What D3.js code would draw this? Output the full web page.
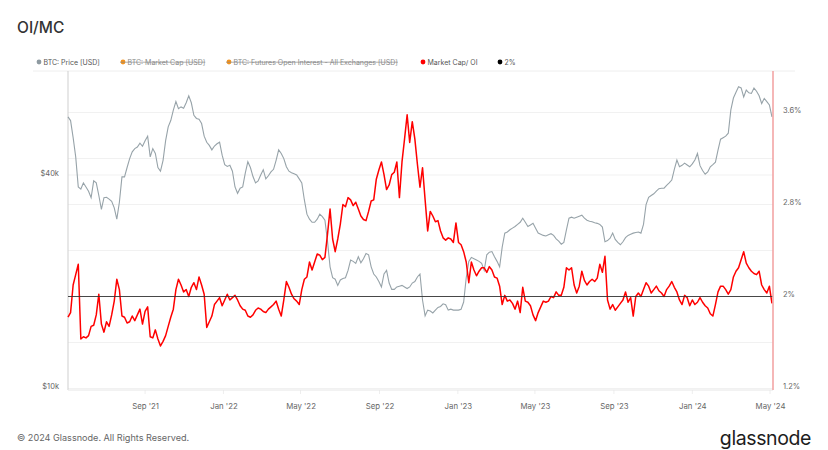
<!DOCTYPE html>
<html><head><meta charset="utf-8">
<script src="https://cdn.jsdelivr.net/npm/d3@7"></script>
<style>
body{margin:0;background:#fff;}
svg{display:block;font-family:Inter,"Noto Sans",sans-serif;}
</style></head><body>
<svg id="c" width="828" height="450"></svg>
<script>
// ---------- data ----------
const startDate = "2021-05-04";   // first sample
const stepDays = 4;               // spacing between samples

// BTC price, thousands of USD
const priceK = [
58.4,57.0,51.0,45.0,37.0,36.5,38.0,37.0,36.0,34.5,
38.5,38.0,35.0,32.0,34.5,34.6,34.2,33.7,32.3,30.0,
33.5,39.5,39.5,42.0,44.5,46.5,47.5,48.0,49.2,48.2,
50.0,51.5,45.0,47.5,46.0,42.0,41.0,44.0,50.0,54.7,
57.0,61.0,64.5,61.6,62.3,61.8,64.0,67.0,64.0,59.0,
57.8,57.5,55.9,51.5,49.5,48.5,47.1,48.3,49.0,49.5,
45.5,42.8,42.3,42.6,41.0,37.0,35.5,36.7,37.0,40.5,
43.6,42.0,39.6,38.0,38.5,40.0,41.4,39.0,39.8,40.8,
41.5,44.0,47.1,46.0,44.5,42.2,41.0,40.6,40.3,40.0,
39.0,38.0,34.0,31.0,30.0,29.4,29.4,30.0,31.0,30.5,
29.8,26.0,22.0,20.5,20.3,19.5,20.2,20.4,20.5,21.5,
23.0,22.8,22.5,23.5,22.6,23.2,24.0,23.8,22.0,21.0,
20.6,20.0,19.3,21.0,21.5,19.8,19.0,19.0,19.3,19.4,
19.5,19.3,19.1,19.3,19.8,20.0,20.6,21.0,17.7,16.0,
16.6,16.5,16.3,16.6,16.9,17.0,17.3,17.2,16.6,16.7,
16.6,16.6,16.6,16.7,17.5,20.5,22.8,23.4,23.2,23.0,
22.8,22.5,21.5,23.8,24.2,24.3,23.5,22.8,22.0,25.0,
27.4,27.6,28.0,28.3,28.6,29.0,29.4,30.2,29.4,28.6,
28.9,29.2,28.3,27.4,27.2,27.0,26.9,27.1,27.3,27.0,
26.4,26.0,25.5,25.8,28.0,30.2,30.4,30.2,30.4,30.6,
30.8,30.2,29.8,29.6,29.5,29.3,29.2,29.0,28.5,25.9,
26.1,26.5,27.4,26.3,25.8,25.4,25.9,26.6,27.0,27.2,
27.4,27.5,27.6,27.4,29.0,33.0,34.6,35.0,35.4,36.0,
36.6,36.7,36.7,37.4,38.0,38.7,41.5,44.1,42.2,42.6,
43.2,42.7,42.2,43.0,44.1,46.0,42.5,41.2,40.2,40.8,
42.2,42.8,43.5,47.0,50.5,51.0,51.5,52.5,61.1,66.0,
68.5,71.0,70.5,66.5,69.5,68.3,68.0,70.4,69.0,67.0,
63.7,65.8,64.5,63.1,58.4
];

// Market Cap / OI, percent
const ratioPct = [
1.82,1.86,2.10,2.19,2.28,1.63,1.65,1.64,1.66,1.74,
1.75,1.84,2.02,1.76,1.69,1.78,1.74,1.84,1.96,2.15,
2.06,1.83,1.82,1.77,1.78,1.83,1.79,1.84,1.89,1.76,
1.87,1.91,1.65,1.64,1.71,1.63,1.57,1.61,1.66,1.74,
1.82,1.89,2.06,2.15,2.10,2.04,2.06,2.00,2.08,2.12,
2.06,2.17,2.10,2.02,1.73,1.78,1.83,1.93,1.96,1.99,
1.92,1.97,2.02,1.97,1.99,2.01,1.97,1.92,1.89,1.88,
1.83,1.82,1.84,1.88,1.90,1.89,1.87,1.86,1.89,1.91,
1.93,1.96,1.89,1.83,1.97,2.13,2.08,2.02,1.98,1.96,
1.93,2.06,2.15,2.17,2.30,2.23,2.30,2.37,2.36,2.32,
2.34,2.54,2.76,2.50,2.39,2.50,2.63,2.80,2.78,2.86,
2.84,2.79,2.82,2.76,2.70,2.67,2.66,2.74,2.83,2.84,
3.02,3.10,3.17,3.06,2.93,2.97,3.06,3.08,3.17,2.86,
3.17,3.37,3.58,3.34,3.52,3.37,3.15,2.95,3.12,2.84,
2.57,2.74,2.70,2.65,2.66,2.57,2.51,2.49,2.51,2.50,
2.47,2.64,2.47,2.45,2.39,2.30,2.12,2.30,2.23,2.18,
2.22,2.25,2.25,2.21,2.26,2.23,2.17,2.16,2.09,1.93,
2.01,1.96,1.97,1.94,1.89,1.96,1.86,2.08,1.96,1.95,
1.92,1.84,1.79,1.86,1.91,1.96,1.95,1.96,2.00,1.99,
2.04,2.01,2.01,2.08,2.25,2.23,2.25,2.10,2.03,2.09,
2.22,2.14,2.10,2.13,2.15,2.13,2.16,2.28,2.21,2.35,
1.97,1.89,1.93,1.88,1.91,1.94,1.97,2.04,1.95,1.99,
1.83,2.00,2.03,2.00,2.06,2.12,2.09,2.03,2.06,2.09,
2.05,2.03,2.00,2.06,2.09,2.13,2.08,2.04,1.97,1.93,
2.01,1.99,1.92,1.97,1.93,1.95,1.99,1.95,1.92,1.90,
1.85,1.83,1.93,2.04,2.09,2.09,2.06,2.02,2.06,2.17,
2.22,2.25,2.32,2.39,2.29,2.25,2.22,2.20,2.19,2.22,
2.10,2.06,2.03,2.09,1.94
];

const xDomain = ["2021-05-04", "2024-05-05"];
const xTickDates = ["2021-09-01","2022-01-01","2022-05-01","2022-09-01","2023-01-01","2023-05-01","2023-09-01","2024-01-01","2024-05-01"];
const priceTicksK = [10, 40];
const priceDomainK = [10, 100];
const pctTicks = [1.2, 2, 2.8, 3.6];
const pctGrid = [1.2, 1.6, 2.0, 2.4, 2.8, 3.2, 3.6, 4.0];
const pctDomain = [1.2, 4.0];
const refLevel = 2;
const legendItems = [
  {label:"BTC: Price [USD]", color:"#8e9aa1", off:false},
  {label:"BTC: Market Cap [USD]", color:"#f7931a", off:true},
  {label:"BTC: Futures Open Interest - All Exchanges [USD]", color:"#f7931a", off:true},
  {label:"Market Cap/ OI", color:"#ff0000", off:false},
  {label:"2%", color:"#000000", off:false}
];
const legendX = [39, 123, 229, 423, 500];

// ---------- drawing ----------
const svg = d3.select("#c");
const parse = d3.utcParse("%Y-%m-%d");
const t0 = parse(startDate);
const dates = priceK.map((_, i) => d3.utcDay.offset(t0, i * stepDays));

const L = 68, R = 773, T = 71, B = 390;
const x = d3.scaleUtc().domain(xDomain.map(parse)).range([68, 772.6]);
const yP = d3.scaleLog().domain(priceDomainK).range([388, 388 - 353.8]);
const yR = d3.scaleLinear().domain(pctDomain).range([388.5, 388.5 - 2.8 * 115]);

// title
svg.append("text").attr("x", 17).attr("y", 33).text("OI/MC")
  .attr("font-size", 15.5).attr("font-weight", 500).attr("fill", "#333");

// legend
const lg = svg.append("g");
legendItems.forEach((d, i) => {
  const gx = legendX[i];
  lg.append("circle").attr("cx", gx).attr("cy", 62).attr("r", 2.4).attr("fill", d.color);
  const tx = lg.append("text").attr("x", gx + 4.5).attr("y", 64.6).text(d.label)
    .attr("font-size", 7).attr("fill", d.off ? "#8a8a8a" : "#555");
  if (d.off) {
    const w = tx.node().getComputedTextLength();
    lg.append("line").attr("x1", gx - 3).attr("x2", gx + 4.5 + w).attr("y1", 62.2).attr("y2", 62.2)
      .attr("stroke", "#8a8a8a").attr("stroke-width", 0.7);
  }
});

// frame / grid
const grid = svg.append("g");
grid.append("line").attr("x1", 33).attr("x2", 795).attr("y1", T).attr("y2", T).attr("stroke", "#eeeeee");
pctGrid.forEach(v => {
  const yy = yR(v);
  if (yy > T + 1 && yy < B - 1)
    grid.append("line").attr("x1", L).attr("x2", R).attr("y1", yy).attr("y2", yy).attr("stroke", "#f1f1f1");
});
priceTicksK.forEach(v => {
  const yy = yP(v);
  if (yy > T + 1 && yy < B - 3)
    grid.append("line").attr("x1", L).attr("x2", R).attr("y1", yy).attr("y2", yy).attr("stroke", "#f1f1f1");
});
xTickDates.forEach(s => {
  const xx = x(parse(s));
  grid.append("line").attr("x1", xx).attr("x2", xx).attr("y1", B).attr("y2", B + 4).attr("stroke", "#eeeeee");
});
grid.append("line").attr("x1", L).attr("x2", L).attr("y1", T).attr("y2", B).attr("stroke", "#cfcfcf");
grid.append("line").attr("x1", L).attr("x2", R).attr("y1", B).attr("y2", B).attr("stroke", "#e6e6e6");

// axes
const xAxis = d3.axisBottom(x).tickValues(xTickDates.map(parse))
  .tickFormat(d3.utcFormat("%b '%y")).tickSize(0).tickPadding(13);
const gx = svg.append("g").attr("transform", `translate(0,${B})`).call(xAxis);
gx.select(".domain").remove();
gx.selectAll("text").attr("font-size", 7.8).attr("fill", "#666").attr("font-family", "Inter,'Noto Sans',sans-serif");

const yAxisL = d3.axisLeft(yP).tickValues(priceTicksK).tickFormat(v => `$${v}k`).tickSize(0).tickPadding(0);
const gl = svg.append("g").attr("transform", `translate(59,-2)`).call(yAxisL);
gl.select(".domain").remove();
gl.selectAll("text").attr("font-size", 7.5).attr("fill", "#666").attr("font-family", "Inter,'Noto Sans',sans-serif");

const yAxisR = d3.axisRight(yR).tickValues(pctTicks).tickFormat(v => `${v}%`).tickSize(0).tickPadding(0);
const gr = svg.append("g").attr("transform", `translate(783,-2.5)`).call(yAxisR);
gr.select(".domain").remove();
gr.selectAll("text").attr("font-size", 7.5).attr("fill", "#666").attr("font-family", "Inter,'Noto Sans',sans-serif");

// price line
const priceLine = d3.line().x((d, i) => x(dates[i])).y(d => yP(d)).curve(d3.curveLinear);
svg.append("path").datum(priceK).attr("d", priceLine)
  .attr("fill", "none").attr("stroke", "#97a3a9").attr("stroke-width", 1.1);

// ratio line
const ratioLine = d3.line().x((d, i) => x(dates[i])).y(d => yR(d));
svg.append("path").datum(ratioPct).attr("d", ratioLine)
  .attr("fill", "none").attr("stroke", "#ff0000").attr("stroke-width", 1.5).attr("stroke-linejoin", "round");

// 2% reference
svg.append("line").attr("x1", L).attr("x2", R).attr("y1", yR(refLevel)).attr("y2", yR(refLevel))
  .attr("stroke", "#333").attr("stroke-width", 0.9);

// right red marker line
svg.append("line").attr("x1", R).attr("x2", R).attr("y1", T).attr("y2", B)
  .attr("stroke", "#f3a5a5").attr("stroke-width", 1.6);

// footer
svg.append("text").attr("x", 17).attr("y", 441).text("© 2024 Glassnode. All Rights Reserved.")
  .attr("font-size", 9.1).attr("fill", "#666");
svg.append("text").attr("x", 811).attr("y", 445).attr("text-anchor", "end").text("glassnode")
  .attr("font-size", 19.5).attr("fill", "#1d1d1d").attr("letter-spacing", -0.4);
</script>
</body></html>
